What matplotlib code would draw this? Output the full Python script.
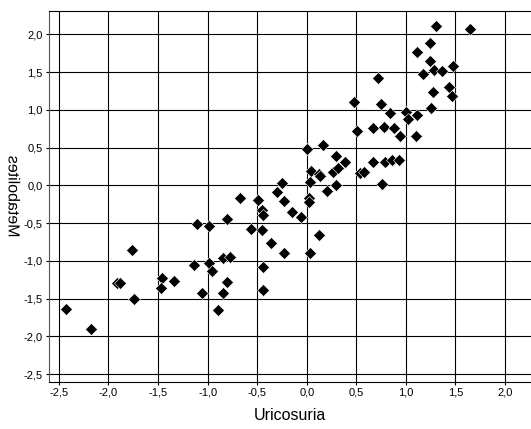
import matplotlib
matplotlib.use("Agg")
import matplotlib.pyplot as plt
from matplotlib.patheffects import AbstractPathEffect
from matplotlib.transforms import Affine2D

# standardized scores, one pair per subject
uricosuria = [1.30, 1.65, 1.24, 1.11, 1.24, 1.48, 1.17, 1.28, 1.36, 0.72,
              1.27, 1.43, 1.47, 0.48, 0.75, 1.25, 0.84, 1.00, 1.02, 1.11,
              0.51, 0.67, 0.78, 0.88, 0.94, 1.10, 0.00, 0.16, 0.04, 0.12,
              0.13, 0.03, 0.29, 0.26, 0.32, 0.39, 0.54, 0.58, 0.67, 0.79,
              0.86, 0.93, 0.76, 0.30, 0.20, 0.02, 0.02, -0.25, -0.30, -0.23,
              -0.15, -0.06, -0.67, -0.49, -0.45, -0.44, -0.56, -0.45, -0.36, -0.23,
              -0.44, -0.44, 0.12, 0.03, -1.11, -0.99, -0.80, -0.84, -0.77, -1.14,
              -0.99, -0.96, -0.80, -1.06, -0.84, -0.90, -1.76, -1.46, -1.47, -1.34,
              -1.91, -1.88, -1.74, -2.43, -2.18]
metabolites = [2.11, 2.07, 1.88, 1.76, 1.64, 1.58, 1.48, 1.52, 1.51, 1.42,
               1.23, 1.30, 1.18, 1.10, 1.08, 1.02, 0.96, 0.97, 0.88, 0.93,
               0.72, 0.76, 0.77, 0.76, 0.65, 0.65, 0.48, 0.53, 0.19, 0.15,
               0.12, 0.05, 0.39, 0.18, 0.23, 0.31, 0.16, 0.18, 0.31, 0.31,
               0.33, 0.33, 0.02, 0.00, -0.07, -0.17, -0.22, 0.03, -0.09, -0.21,
               -0.36, -0.42, -0.17, -0.20, -0.33, -0.39, -0.58, -0.59, -0.77, -0.89,
               -1.08, -1.38, -0.66, -0.89, -0.51, -0.54, -0.45, -0.96, -0.95, -1.05,
               -1.03, -1.14, -1.28, -1.42, -1.42, -1.65, -0.85, -1.23, -1.36, -1.27,
               -1.30, -1.29, -1.50, -1.64, -1.90]

x_ticks = [-2.5, -2.0, -1.5, -1.0, -0.5, 0.0, 0.5, 1.0, 1.5, 2.0]
x_tick_labels = ["-2,5", "-2,0", "-1,5", "-1,0", "-0,5", "0,0", "0,5", "1,0", "1,5", "2,0"]
y_ticks = [-2.5, -2.0, -1.5, -1.0, -0.5, 0.0, 0.5, 1.0, 1.5, 2.0]
y_tick_labels = ["-2,5", "-2,0", "-1,5", "-1,0", "-0,5", "0,0", "0,5", "1,0", "1,5", "2,0"]


class Mirrored(AbstractPathEffect):
    """Flip the glyphs across the long axis of the text."""

    def draw_path(self, renderer, gc, tpath, affine, rgbFace=None):
        ys = tpath.vertices[:, 1]
        mid = (ys.min() + ys.max()) / 2
        flip = Affine2D().translate(0, -mid).scale(1, -1).translate(0, mid)
        renderer.draw_path(gc, tpath, flip + affine, rgbFace)


plt.rcParams['font.family'] = ['Liberation Sans', 'DejaVu Sans']

fig = plt.figure(figsize=(5.31, 4.29), dpi=100)
ax = fig.add_axes([0.0923, 0.1103, 0.9077, 0.8634])

ax.plot(uricosuria, metabolites, linestyle='none', marker='D', ms=5.8,
        mfc='black', mec='white', mew=0.4, zorder=3)

ax.set_xlim(-2.6, 2.262)
ax.set_ylim(-2.6, 2.304)
ax.set_xticks(x_ticks)
ax.set_xticklabels(x_tick_labels)
ax.set_yticks(y_ticks)
ax.set_yticklabels(y_tick_labels)
ax.tick_params(direction='out', length=2.5, width=0.8, pad=2, labelsize=8)
ax.grid(True, color='black', lw=0.8)

for side in ['left', 'top', 'bottom']:
    ax.spines[side].set_linewidth(0.8)
ax.spines['left'].set_color('#555555')
ax.spines['right'].set_visible(False)

ax.set_xlabel('Uricosuria', fontsize=11.5)
ax.xaxis.set_label_coords(0.5, -0.09)
ax.xaxis.label.set_va('center')

ax.set_ylabel('Metabolites', fontsize=11.5, path_effects=[Mirrored()])
ax.yaxis.set_label_coords(-0.0695, 0.5)
ax.yaxis.label.set_va('center')

fig.savefig('out.png', dpi=100)
